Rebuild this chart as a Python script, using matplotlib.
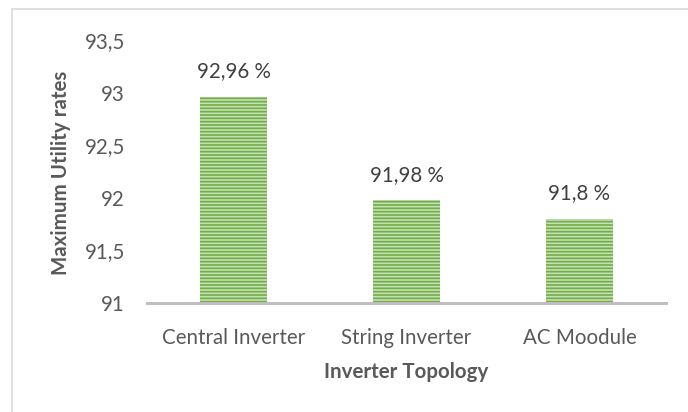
import matplotlib.pyplot as plt
from matplotlib.patches import Rectangle
from matplotlib.ticker import FuncFormatter

# data
categories = ["Central Inverter", "String Inverter", "AC Moodule"]
utility_rates = [92.96, 91.98, 91.8]
value_labels = ["92,96 %", "91,98 %", "91,8 %"]
y_ticks = [91, 91.5, 92, 92.5, 93, 93.5]

plt.rcParams['font.family'] = ['Lato', 'DejaVu Sans']
plt.rcParams['hatch.linewidth'] = 1.2

text_col = "#595959"
fs = 14.8

fig = plt.figure(figsize=(6.88, 4.12), dpi=100)
ax = fig.add_axes([147 / 688, 1 - 303 / 412, 519 / 688, 263 / 412])

# light border of the chart area (right and bottom edges are cut off)
fig.patches.append(Rectangle((12 / 688, -0.1), 1.2, 1 - 9 / 412 + 0.1,
                             transform=fig.transFigure, fill=False,
                             edgecolor="#D9D9D9", linewidth=1.2, zorder=0))

x = range(len(categories))
bars = ax.bar(x, [v - 91 for v in utility_rates], bottom=91, width=0.39,
              color="#C5E0B4", edgecolor="#70AD47", linewidth=0,
              hatch="-----", zorder=2)

for b, lab in zip(bars, value_labels):
    ax.annotate(lab, (b.get_x() + b.get_width() / 2, b.get_y() + b.get_height()),
                xytext=(0, 11), textcoords="offset points", ha="center",
                va="bottom", fontsize=fs, color="#404040")

ax.set_xlim(-0.5, 2.5)
ax.set_ylim(91, 93.5)
ax.set_yticks(y_ticks)
ax.yaxis.set_major_formatter(FuncFormatter(lambda v, p: f"{v:g}".replace(".", ",")))
ax.set_xticks(list(x))
ax.set_xticklabels(categories)

for s in ["top", "right", "left"]:
    ax.spines[s].set_visible(False)
ax.spines["bottom"].set_color("#BFBFBF")
ax.spines["bottom"].set_linewidth(2.2)
ax.spines["bottom"].set_zorder(3)

ax.tick_params(axis="both", length=0, labelsize=fs, colors=text_col)
ax.tick_params(axis="x", pad=18)
ax.tick_params(axis="y", pad=16)

ax.set_xlabel("Inverter Topology", fontsize=fs, fontweight="bold",
              color=text_col, labelpad=10)
# y title placed directly in figure coords
fig.text(61 / 688, 1 - 173 / 412, "Maximum Utility rates", rotation=90,
         ha="center", va="center", fontsize=fs, fontweight="bold",
         color=text_col)

plt.savefig("out.png", dpi=100)
